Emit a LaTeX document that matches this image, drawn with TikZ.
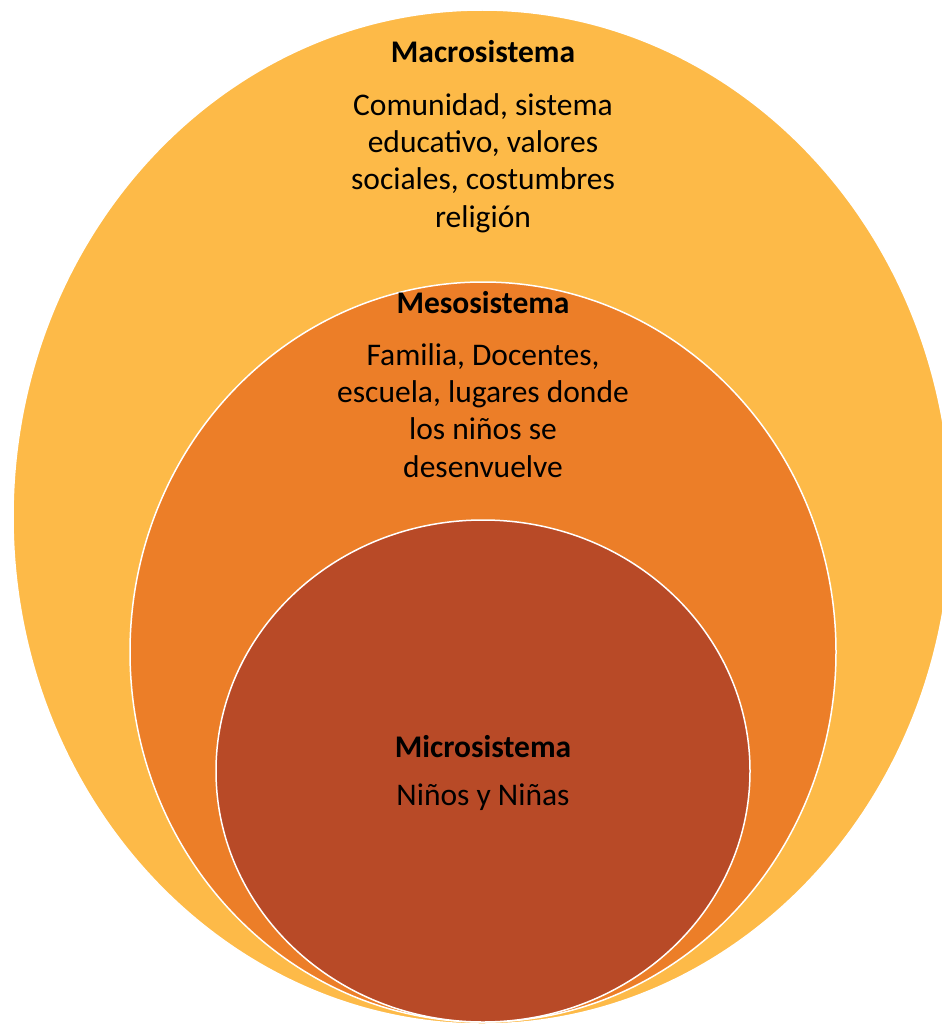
\documentclass[tikz,border=0pt]{standalone}
\usepackage{fontspec}
\setmainfont{Carlito}
\definecolor{macroc}{HTML}{FDBA48}
\definecolor{mesoc}{HTML}{EC7E28}
\definecolor{microc}{HTML}{B84A27}
\begin{document}
\begin{tikzpicture}[x=1pt,y=-1pt,
  ring/.style={draw=white,line width=1.5pt},
  title/.style={font=\fontsize{31.5}{37.3}\selectfont\bfseries,anchor=base,inner sep=0pt},
  body/.style={font=\fontsize{31.5}{37.3}\selectfont,anchor=base,align=center,inner sep=0pt}]
\useasboundingbox (0,0) rectangle (942,1025);
\fill[white] (0,0) rectangle (942,1025);
\draw[ring,fill=macroc] (482,517) ellipse [x radius=469, y radius=507];
\draw[ring,fill=mesoc] (483,652) ellipse [x radius=353, y radius=370];
\draw[ring,fill=microc] (483,771) ellipse [x radius=267, y radius=251];
\node[title] (macrot) at (483,63) {Macrosistema};
\node[body] (macrob) at (483,227) {Comunidad, sistema\\educativo, valores\\sociales, costumbres\\religión};
\node[title] (mesot) at (483,313) {Mesosistema};
\node[body] (mesob) at (483,477) {Familia, Docentes,\\escuela, lugares donde\\los niños se\\desenvuelve};
\node[title] (microt) at (483,757) {Microsistema};
\node[body] (microb) at (483,805) {Niños y Niñas};
\end{tikzpicture}
\end{document}
